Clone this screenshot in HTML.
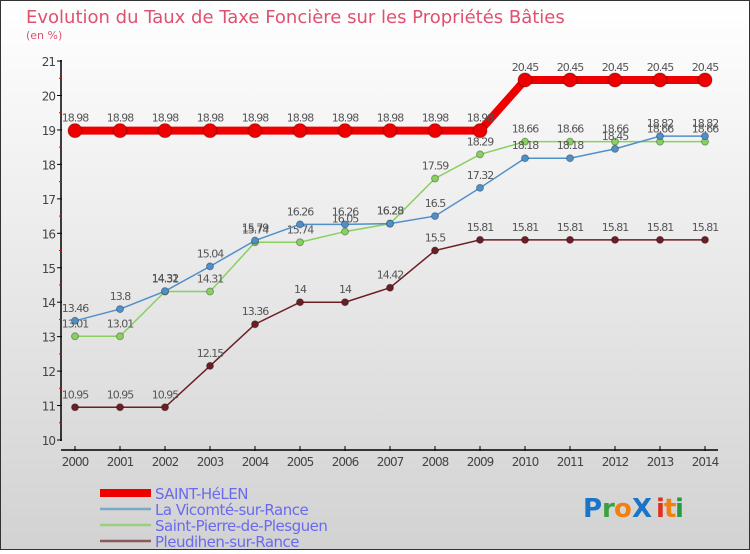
<!DOCTYPE html>
<html><head><meta charset="utf-8"><style>
body{margin:0;width:750px;height:550px;overflow:hidden;font-family:"DejaVu Sans","Liberation Sans",sans-serif}
svg text{font-family:"DejaVu Sans","Liberation Sans",sans-serif}
</style></head><body>
<svg id="chart" width="750" height="550">
<defs><linearGradient id="bg" x1="0" y1="0" x2="0" y2="1"><stop offset="0" stop-color="#ffffff"/><stop offset="1" stop-color="#d2d2d2"/></linearGradient></defs>
<rect x="0.5" y="0.5" width="749" height="549" fill="url(#bg)" stroke="#333"/>
<text x="26" y="23" font-size="18" fill="#e0506f">Evolution du Taux de Taxe Foncière sur les Propriétés Bâties</text>
<text x="26" y="39" font-size="11" fill="#e0506f">(en %)</text>
<g id="axes"></g><g id="series"></g><g id="legend"></g>
<g font-size="26" font-weight="bold">
<text x="583" y="517" fill="#1a74c8">P</text><text x="602" y="517" fill="#3aa040">r</text><text x="614" y="517" fill="#f08010">o</text><text x="632" y="517" fill="#1a74c8">X</text><text x="656" y="517" fill="#e03020">i</text><text x="664" y="517" fill="#f08010">t</text><text x="675" y="517" fill="#2a9a40">i</text>
</g>
</svg>
<script>
const years=[2000,2001,2002,2003,2004,2005,2006,2007,2008,2009,2010,2011,2012,2013,2014];
const saint=[18.98,18.98,18.98,18.98,18.98,18.98,18.98,18.98,18.98,18.98,20.45,20.45,20.45,20.45,20.45];
const vicomte=[13.46,13.8,14.32,15.04,15.79,16.26,16.26,16.28,16.5,17.32,18.18,18.18,18.45,18.82,18.82];
const pierre=[13.01,13.01,14.31,14.31,15.74,15.74,16.05,16.28,17.59,18.29,18.66,18.66,18.66,18.66,18.66];
const pleud=[10.95,10.95,10.95,12.15,13.36,14,14,14.42,15.5,15.81,15.81,15.81,15.81,15.81,15.81];
const yTicks=[10,11,12,13,14,15,16,17,18,19,20,21];
const NS="http://www.w3.org/2000/svg";
const X=i=>75+i*45, Y=v=>440-(v-10)*34.45;
function mk(t,a,p){const e=document.createElementNS(NS,t);for(const k in a)e.setAttribute(k,a[k]);p.appendChild(e);return e;}
const ax=document.getElementById('axes');
let l=mk('line',{x1:61,y1:60,x2:61,y2:441,stroke:'#000','stroke-width':1.5},ax);


l=mk('line',{x1:61,y1:450,x2:718,y2:450,stroke:'#000','stroke-width':1.5},ax);


yTicks.forEach(v=>{mk('line',{x1:57,y1:Y(v),x2:62,y2:Y(v),stroke:'#000'},ax);
 if(v<21)mk('line',{x1:59,y1:Y(v+0.5),x2:62,y2:Y(v+0.5),stroke:'#e00'},ax);
 const t=mk('text',{x:55,y:Y(v)+5,'font-size':12,fill:'#444','text-anchor':'end','letter-spacing':'-1'},ax);t.textContent=v;
 
 });
years.forEach((yr,i)=>{mk('line',{x1:X(i),y1:446,x2:X(i),y2:451,stroke:'#000'},ax);
 const t=mk('text',{x:X(i),y:466,'font-size':12,fill:'#444','text-anchor':'middle','letter-spacing':'-1'},ax);t.textContent=yr;
 
 });
const sg=document.getElementById('series');
function draw(data,color,w,r,name){const g=mk('g',{},sg);
 
 
 mk('polyline',{points:data.map((v,i)=>X(i)+','+Y(v)).join(' '),fill:'none',stroke:color,'stroke-width':w},g);
 data.forEach((v,i)=>{const c=mk('circle',{cx:X(i),cy:Y(v),r:r,fill:color,stroke:'rgba(0,0,0,0.3)','stroke-width':1},g);
  
  
  const t=mk('text',{x:X(i),y:Y(v)-9,'font-size':11,fill:'#555','text-anchor':'middle','letter-spacing':'-1'},g);t.textContent=v;});}
draw(pleud,'#6b1e24',1.5,3.5,'series-pleudihen');
draw(pierre,'#88d060',1.5,3.5,'series-saint-pierre');
draw(vicomte,'#5090c8',1.5,3.5,'series-vicomte');
draw(saint,'#ee0000',8,7,'series-saint-helen');
const lg=document.getElementById('legend');
[['SAINT-HéLEN','#ee0000',8],['La Vicomté-sur-Rance','#7aa8c8',2.5],['Saint-Pierre-de-Plesguen','#98d080',2.5],['Pleudihen-sur-Rance','#8a5a5a',2.5]].forEach((d,i)=>{
 const y=493+i*16;
 const g=mk('g',{},lg);
 
 
 mk('line',{x1:100,y1:y,x2:151,y2:y,stroke:d[1],'stroke-width':d[2]},g);
 const t=mk('text',{x:155,y:y+6,'font-size':15,fill:'#6a6af0','letter-spacing':'-0.5'},g);t.textContent=d[0];});
</script>
</body></html>
